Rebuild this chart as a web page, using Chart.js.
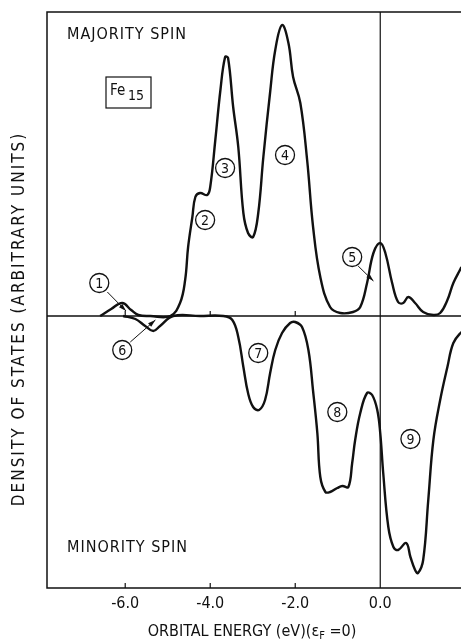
<!DOCTYPE html>
<html>
<head>
<meta charset="utf-8">
<title>Fe15 density of states</title>
<script src="https://cdn.jsdelivr.net/npm/chart.js@4.4.1/dist/chart.umd.min.js"></script>
<style>
  html, body { margin: 0; padding: 0; background: #fff; }
  canvas { display: block; }
</style>
</head>
<body>
<canvas id="dosChart" width="461" height="639"></canvas>
<script>
// orbital energy (eV, E_F = 0) and density of states (arbitrary units)
const majorityEnergy = [-6.59, -6.33, -6.07, -5.86, -5.69, -5.41, -4.94, -4.71, -4.59, -4.52, -4.42, -4.35,
  -4.24, -4.07, -4.00, -3.88, -3.76, -3.65, -3.58, -3.46, -3.34, -3.22, -3.11, -2.99, -2.87, -2.75,
  -2.59, -2.47, -2.31, -2.16, -2.05, -1.88, -1.72, -1.58, -1.41, -1.18, -0.94, -0.64, -0.47, -0.31,
  -0.16, 0.00, 0.12, 0.28, 0.42, 0.54, 0.66, 0.82, 1.01, 1.25, 1.41, 1.58, 1.72, 1.91, 2.12];
const majorityDos = [0, 7, 13, 6, 1, 0, 0, 13, 36, 69, 99, 119,
  123, 121, 129, 176, 226, 259, 258, 209, 169, 103, 83, 79, 103, 159,
  224, 266, 291, 273, 239, 213, 156, 89, 39, 9, 3, 4, 9, 33,
  63, 73, 63, 33, 14, 13, 19, 13, 4, 1, 3, 16, 33, 49, 70];

const minorityEnergy = [-6.05, -5.76, -5.53, -5.34, -5.18, -4.87, -4.24, -3.69, -3.48, -3.34, -3.22, -3.11,
  -2.99, -2.85, -2.71, -2.59, -2.47, -2.31, -2.12, -2.00, -1.84, -1.69, -1.58, -1.48, -1.41, -1.29,
  -1.18, -1.01, -0.89, -0.75, -0.66, -0.59, -0.47, -0.31, -0.19, -0.07, 0.00, 0.07, 0.19, 0.31,
  0.42, 0.61, 0.71, 0.82, 0.89, 1.01, 1.13, 1.25, 1.41, 1.58, 1.72, 1.91, 2.12];
const minorityDos = [0, -3, -10, -15, -10, 0, 0, 0, -4, -21, -51, -77,
  -91, -94, -84, -57, -34, -17, -7, -6, -11, -34, -75, -117, -161, -176,
  -176, -172, -170, -171, -147, -124, -97, -77, -79, -94, -117, -157, -211, -231,
  -234, -227, -241, -254, -257, -244, -184, -124, -84, -51, -27, -16, -8];

const energyTicks = [-6, -4, -2, 0];
const energyRange = [-7.84, 1.9];
const dosRange = [-272, 304];

const FONT = '"DejaVu Sans Condensed", "Liberation Sans Narrow", "DejaVu Sans", sans-serif';

// circled peak numbers, some with a pointer arrow
const peakMarks = [
  { n: '1', x: -6.61, y: 33, from: [-6.42, 24], to: [-5.98, 5] },
  { n: '2', x: -4.12, y: 96 },
  { n: '3', x: -3.65, y: 148 },
  { n: '4', x: -2.24, y: 161 },
  { n: '5', x: -0.66, y: 59, from: [-0.52, 50], to: [-0.16, 35] },
  { n: '6', x: -6.07, y: -34, from: [-5.88, -26], to: [-5.29, -4] },
  { n: '7', x: -2.87, y: -37 },
  { n: '8', x: -1.01, y: -96 },
  { n: '9', x: 0.71, y: -123 }
];

function arrow(ctx, x1, y1, x2, y2) {
  const a = Math.atan2(y2 - y1, x2 - x1);
  ctx.beginPath();
  ctx.moveTo(x1, y1);
  ctx.lineTo(x2, y2);
  ctx.stroke();
  ctx.beginPath();
  ctx.moveTo(x2, y2);
  ctx.lineTo(x2 - 8 * Math.cos(a - 0.3), y2 - 8 * Math.sin(a - 0.3));
  ctx.lineTo(x2 - 8 * Math.cos(a + 0.3), y2 - 8 * Math.sin(a + 0.3));
  ctx.closePath();
  ctx.fill();
}

const framePlugin = {
  id: 'frame',
  beforeDatasetsDraw(chart) {
    const { ctx, chartArea: a, scales: { x, y } } = chart;
    const y0 = y.getPixelForValue(0);
    const xF = x.getPixelForValue(0);
    ctx.save();
    ctx.strokeStyle = '#111';
    ctx.lineWidth = 1.5;
    ctx.beginPath();
    ctx.moveTo(chart.width, a.top); ctx.lineTo(a.left, a.top);
    ctx.lineTo(a.left, a.bottom); ctx.lineTo(chart.width, a.bottom);
    ctx.moveTo(a.left, y0); ctx.lineTo(chart.width, y0);
    ctx.stroke();
    ctx.lineWidth = 1.2;
    ctx.beginPath();
    ctx.moveTo(xF, a.top); ctx.lineTo(xF, a.bottom);
    energyTicks.forEach(t => {
      const px = x.getPixelForValue(t);
      ctx.moveTo(px, y0); ctx.lineTo(px, y0 - 5);
      ctx.moveTo(px, a.bottom); ctx.lineTo(px, a.bottom - 5);
    });
    ctx.stroke();
    ctx.restore();
  },
  afterDatasetsDraw(chart) {
    const { ctx, chartArea: a, scales: { x, y } } = chart;
    ctx.save();
    ctx.fillStyle = '#111';
    ctx.strokeStyle = '#111';
    ctx.textBaseline = 'middle';
    ctx.textAlign = 'left';
    ctx.font = '16px ' + FONT;
    ctx.letterSpacing = '1px';
    ctx.fillText('MAJORITY SPIN', a.left + 20, a.top + 23);
    ctx.fillText('MINORITY SPIN', a.left + 20, a.bottom - 40);
    ctx.letterSpacing = '0px';

    // Fe15 box
    ctx.lineWidth = 1.2;
    ctx.strokeRect(a.left + 59, a.top + 65, 45, 31);
    ctx.font = '15px ' + FONT;
    ctx.fillText('Fe', a.left + 63, a.top + 79);
    ctx.font = '14px ' + FONT;
    ctx.fillText('15', a.left + 81, a.top + 84);

    // peak numbers
    peakMarks.forEach(m => {
      const cx = x.getPixelForValue(m.x), cy = y.getPixelForValue(m.y);
      ctx.lineWidth = 1.3;
      ctx.beginPath();
      ctx.arc(cx, cy, 9.5, 0, Math.PI * 2);
      ctx.stroke();
      ctx.font = '14px ' + FONT;
      ctx.textAlign = 'center';
      ctx.fillText(m.n, cx, cy + 1);
      if (m.from) {
        ctx.lineWidth = 1;
        arrow(ctx, x.getPixelForValue(m.from[0]), y.getPixelForValue(m.from[1]),
          x.getPixelForValue(m.to[0]), y.getPixelForValue(m.to[1]));
      }
    });

    // axis titles
    ctx.textAlign = 'left';
    ctx.textBaseline = 'alphabetic';
    const p1 = 'ORBITAL ENERGY (eV)(\u03b5', p2 = 'F', p3 = ' =0)';
    ctx.font = '16px ' + FONT;
    const w1 = ctx.measureText(p1).width, w3 = ctx.measureText(p3).width;
    ctx.font = '11px ' + FONT;
    const w2 = ctx.measureText(p2).width;
    let tx = (a.left + a.right) / 2 - (w1 + w2 + w3) / 2 - 2;
    const ty = 636;
    ctx.font = '16px ' + FONT;
    ctx.fillText(p1, tx, ty); tx += w1;
    ctx.font = '11px ' + FONT;
    ctx.fillText(p2, tx, ty + 3); tx += w2;
    ctx.font = '16px ' + FONT;
    ctx.fillText(p3, tx, ty);

    ctx.translate(20, 319);
    ctx.rotate(-Math.PI / 2);
    ctx.textAlign = 'center';
    ctx.textBaseline = 'middle';
    ctx.font = '17px ' + FONT;
    ctx.letterSpacing = '2px';
    ctx.fillText('DENSITY OF STATES (ARBITRARY UNITS)', 0, 0);
    ctx.restore();
  }
};

const ctx = document.getElementById('dosChart').getContext('2d');
const dosChart = new Chart(ctx, {
  type: 'line',
  data: {
    datasets: [{
      label: 'Majority spin',
      data: majorityEnergy.map((e, i) => ({ x: e, y: majorityDos[i] })),
      borderColor: '#111',
      borderWidth: 2.4,
      pointRadius: 0,
      tension: 0.4,
      fill: false
    }, {
      label: 'Minority spin',
      data: minorityEnergy.map((e, i) => ({ x: e, y: minorityDos[i] })),
      borderColor: '#111',
      borderWidth: 2.4,
      pointRadius: 0,
      tension: 0.4,
      fill: false
    }]
  },
  options: {
    responsive: false,
    animation: false,
    layout: { padding: { top: 12, left: 0, right: 0, bottom: 0 } },
    plugins: { legend: { display: false }, tooltip: { enabled: false } },
    scales: {
      x: {
        type: 'linear',
        min: energyRange[0],
        max: energyRange[1],
        grid: { display: false },
        border: { display: false },
        afterBuildTicks: s => { s.ticks = energyTicks.map(v => ({ value: v })); },
        afterFit: s => { s.height = 51; },
        ticks: {
          padding: -2,
          color: '#111',
          font: { size: 16, family: FONT },
          maxRotation: 0,
          callback: v => v.toFixed(1)
        }
      },
      y: {
        min: dosRange[0],
        max: dosRange[1],
        grid: { display: false },
        border: { display: false },
        ticks: { display: false },
        afterFit: s => { s.width = 47; }
      }
    }
  },
  plugins: [framePlugin]
});
</script>
</body>
</html>
